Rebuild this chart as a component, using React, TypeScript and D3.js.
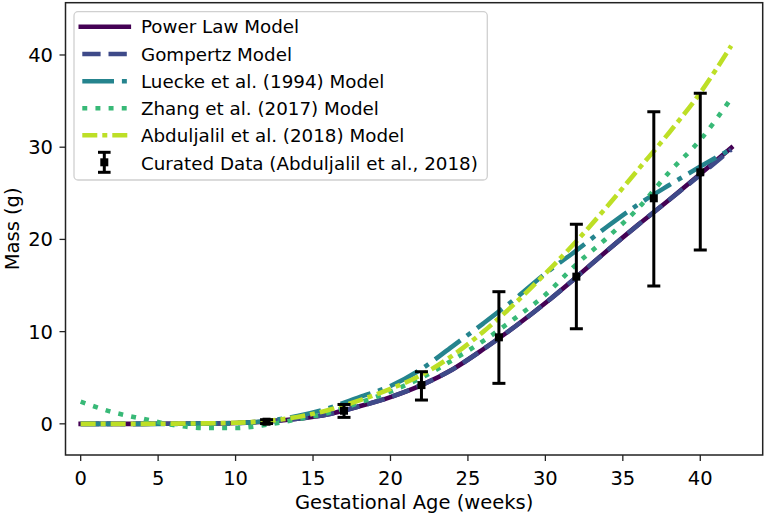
import React from 'react';
import * as d3 from 'd3';

const weeks = [0, 2, 4, 6, 8, 10, 12, 14, 16, 18, 20, 22, 24, 26, 28, 30, 32, 34, 36, 38, 40, 42];
const powerLaw = [0, 0, 0, 0.01, 0.03, 0.09, 0.25, 0.55, 1.05, 1.9, 2.9, 4.2, 5.9, 8.1, 10.5, 13.1, 15.9, 18.8, 21.6, 24.3, 27.1, 29.95];
const gompertz = [0, 0, 0, 0.01, 0.03, 0.09, 0.25, 0.55, 1.05, 1.9, 2.9, 4.2, 5.9, 8.1, 10.5, 13.1, 15.9, 18.8, 21.6, 24.3, 27.0, 29.75];
const luecke = [0, 0, 0, 0, 0.02, 0.08, 0.3, 0.85, 1.7, 2.9, 4.1, 5.95, 8.4, 10.9, 13.5, 16.3, 18.8, 21.4, 23.8, 25.9, 27.9, 29.8];
const zhang = [2.4, 1.3, 0.55, -0.13, -0.45, -0.45, -0.1, 0.5, 1.2, 2.3, 3.5, 5.0, 6.9, 9.0, 11.4, 14.0, 17.3, 20.2, 23.4, 27.3, 30.8, 35.3];
const abduljalil = [0, 0, 0, 0.02, 0.05, 0.12, 0.3, 0.75, 1.5, 2.55, 3.8, 5.3, 7.4, 10.0, 13.0, 16.3, 19.8, 23.6, 27.6, 31.6, 35.9, 41.0];

const dataWeeks = [12, 17, 22, 27, 32, 37, 40];
const dataMass = [0.23, 1.42, 4.2, 9.38, 15.96, 24.46, 27.28];
const dataLow = [0.03, 0.7, 2.58, 4.39, 10.32, 14.95, 18.85];
const dataHigh = [0.45, 2.1, 5.65, 14.33, 21.64, 33.85, 35.85];

const xTicks = [0, 5, 10, 15, 20, 25, 30, 35, 40];
const yTicks = [0, 10, 20, 30, 40];

const seriesNames = [
  'Power Law Model',
  'Gompertz Model',
  'Luecke et al. (1994) Model',
  'Zhang et al. (2017) Model',
  'Abduljalil et al. (2018) Model',
];
const seriesValues = [powerLaw, gompertz, luecke, zhang, abduljalil];
const seriesColorT = [0, 0.225, 0.45, 0.675, 0.9];
const seriesDash = ['', '18.3 7.9', '31.7 7.9 4.95 7.9', '4.95 8.2', '15 5 5 5'];
const dataLabel = 'Curated Data (Abduljalil et al., 2018)';

const W = 766;
const H = 515;
const L = 65.5, R = 762.7, T = 2.7, B = 455;
const FONT = 'DejaVu Sans, Liberation Sans, sans-serif';

export default function App() {
  const x = d3.scaleLinear().domain([-0.98, 44.03]).range([L, R]);
  const y = d3.scaleLinear().domain([-3.38, 45.67]).range([B, T]);
  const line = d3
    .line<number>()
    .x((_, i) => x(weeks[i]))
    .y((d) => y(d))
    .curve(d3.curveMonotoneX);
  const lw = 4.6;
  const axisColor = '#222';
  const tickFs = 19.5;
  const legFs = 18.3;
  const legRows = [26.7, 54, 81.3, 108.3, 135.3, 162.3];

  return (
    <svg
      width={W}
      height={H}
      style={{ position: 'absolute', left: 0, top: 0, background: '#fff' }}
      fontFamily={FONT}
    >
      <rect x={0} y={0} width={W} height={H} fill="#fff" />
      <defs>
        <clipPath id="plotclip">
          <rect x={L} y={T} width={R - L} height={B - T} />
        </clipPath>
      </defs>
      <g clipPath="url(#plotclip)">
        {seriesValues.map((vals, k) => (
          <path
            key={k}
            d={line(vals) || ''}
            fill="none"
            stroke={d3.interpolateViridis(seriesColorT[k])}
            strokeWidth={lw}
            strokeDasharray={seriesDash[k] || undefined}
            strokeLinecap={k === 0 ? 'square' : 'butt'}
          />
        ))}
        {dataWeeks.map((w, i) => {
          const cx = x(w);
          return (
            <g key={i}>
              <line x1={cx} x2={cx} y1={y(dataLow[i])} y2={y(dataHigh[i])} stroke="#000" strokeWidth={3} />
              <line x1={cx - 6.5} x2={cx + 6.5} y1={y(dataLow[i])} y2={y(dataLow[i])} stroke="#000" strokeWidth={3} />
              <line x1={cx - 6.5} x2={cx + 6.5} y1={y(dataHigh[i])} y2={y(dataHigh[i])} stroke="#000" strokeWidth={3} />
              <rect x={cx - 4} y={y(dataMass[i]) - 4} width={8} height={8} fill="#000" />
            </g>
          );
        })}
      </g>
      <rect x={L} y={T} width={R - L} height={B - T} fill="none" stroke={axisColor} strokeWidth={1.5} />
      {xTicks.map((t) => (
        <g key={'x' + t}>
          <line x1={x(t)} x2={x(t)} y1={B} y2={B + 6} stroke={axisColor} strokeWidth={1.3} />
          <text x={x(t)} y={484.5} textAnchor="middle" fontSize={tickFs} fill="#000">
            {t}
          </text>
        </g>
      ))}
      {yTicks.map((t) => (
        <g key={'y' + t}>
          <line x1={L - 6} x2={L} y1={y(t)} y2={y(t)} stroke={axisColor} strokeWidth={1.3} />
          <text x={53} y={y(t) + 7} textAnchor="end" fontSize={tickFs} fill="#000">
            {t}
          </text>
        </g>
      ))}
      <text x={(L + R) / 2} y={509} textAnchor="middle" fontSize={tickFs} fill="#000">
        Gestational Age (weeks)
      </text>
      <text
        transform={`translate(18.5, ${(T + B) / 2}) rotate(-90)`}
        textAnchor="middle"
        fontSize={tickFs}
        fill="#000"
      >
        Mass (g)
      </text>

      <g>
        <rect x={74} y={11.7} width={487.3 - 74} height={180 - 11.7} rx={4} ry={4} fill="#fff" fillOpacity={0.8} stroke="#d0d0d0" strokeWidth={1.3} />
        {seriesNames.map((name, k) => (
          <g key={name}>
            <line
              x1={k === 0 ? 80.8 : 82.3}
              x2={k === 0 ? 128.8 : 127.3}
              y1={legRows[k]}
              y2={legRows[k]}
              stroke={d3.interpolateViridis(seriesColorT[k])}
              strokeWidth={lw}
              strokeDasharray={seriesDash[k] || undefined}
              strokeLinecap={k === 0 ? 'square' : 'butt'}
            />
            <text x={141} y={legRows[k] + 6.6} fontSize={legFs} fill="#000">
              {name}
            </text>
          </g>
        ))}
        <g>
          <line x1={104.3} x2={104.3} y1={legRows[5] - 10} y2={legRows[5] + 10} stroke="#000" strokeWidth={3} />
          <line x1={98} x2={110.6} y1={legRows[5] - 10} y2={legRows[5] - 10} stroke="#000" strokeWidth={3} />
          <line x1={98} x2={110.6} y1={legRows[5] + 10} y2={legRows[5] + 10} stroke="#000" strokeWidth={3} />
          <rect x={100.3} y={legRows[5] - 4} width={8} height={8} fill="#000" />
          <text x={141} y={legRows[5] + 7.6} fontSize={legFs} fill="#000">
            {dataLabel}
          </text>
        </g>
      </g>
    </svg>
  );
}
